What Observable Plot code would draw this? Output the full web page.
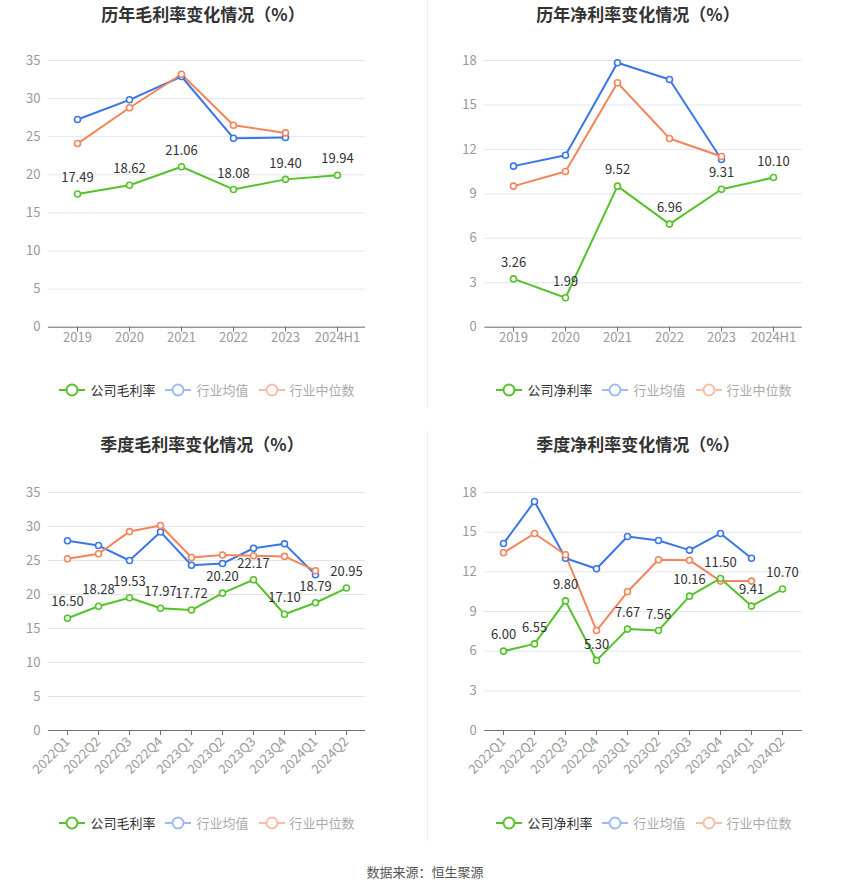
<!DOCTYPE html>
<html>
<head>
<meta charset="utf-8">
<script src="https://cdn.jsdelivr.net/npm/d3@7"></script>
<script src="https://cdn.jsdelivr.net/npm/@observablehq/plot@0.6"></script>
<style>
  html, body { margin: 0; padding: 0; background: #fff; }
  body { font-family: "Noto Sans CJK SC", "Noto Sans", sans-serif; }
  #root { position: relative; width: 850px; height: 891px; overflow: hidden; }
  .title { position: absolute; font-size: 17px; font-weight: bold; color: #333; text-align: center; line-height: 20px; }
  .panel { position: absolute; }
  .legend { position: absolute; display: flex; justify-content: center; align-items: center; font-size: 13px; line-height: 16px; }
  .legend .item { display: flex; align-items: center; margin: 0 5px; }
  .legend .item svg { margin-right: 5px; }
  .divider { position: absolute; left: 427px; width: 1px; background: #eeeeee; }
  .caption { position: absolute; left: 0; width: 850px; top: 862px; text-align: center; font-size: 13px; color: #555; }
</style>
</head>
<body>
<div id="root"></div>
<script>
// ---- Data ----
const yearCats = ["2019", "2020", "2021", "2022", "2023", "2024H1"];
const quarterCats = ["2022Q1", "2022Q2", "2022Q3", "2022Q4", "2023Q1", "2023Q2", "2023Q3", "2023Q4", "2024Q1", "2024Q2"];

const annualGrossCompany = [17.49, 18.62, 21.06, 18.08, 19.40, 19.94];
const annualGrossAvg     = [27.26, 29.84, 32.90, 24.80, 24.90, null];
const annualGrossMedian  = [24.10, 28.80, 33.20, 26.50, 25.50, null];

const annualNetCompany = [3.26, 1.99, 9.52, 6.96, 9.31, 10.10];
const annualNetAvg     = [10.87, 11.61, 17.85, 16.72, 11.32, null];
const annualNetMedian  = [9.52, 10.51, 16.50, 12.74, 11.52, null];

const quarterGrossCompany = [16.50, 18.28, 19.53, 17.97, 17.72, 20.20, 22.17, 17.10, 18.79, 20.95];
const quarterGrossAvg     = [27.90, 27.20, 25.00, 29.20, 24.30, 24.55, 26.80, 27.45, 22.90, null];
const quarterGrossMedian  = [25.25, 26.00, 29.25, 30.15, 25.45, 25.80, 25.70, 25.60, 23.50, null];

const quarterNetCompany = [6.00, 6.55, 9.80, 5.30, 7.67, 7.56, 10.16, 11.50, 9.41, 10.70];
const quarterNetAvg     = [14.14, 17.32, 13.03, 12.23, 14.67, 14.37, 13.64, 14.90, 13.03, null];
const quarterNetMedian  = [13.44, 14.90, 13.29, 7.56, 10.49, 12.91, 12.88, 11.30, 11.30, null];

const grossTicks = [0, 5, 10, 15, 20, 25, 30, 35];
const netTicks = [0, 3, 6, 9, 12, 15, 18];

const titles = ["历年毛利率变化情况（%）", "历年净利率变化情况（%）", "季度毛利率变化情况（%）", "季度净利率变化情况（%）"];
const grossLegend = ["公司毛利率", "行业均值", "行业中位数"];
const netLegend = ["公司净利率", "行业均值", "行业中位数"];
const caption = "数据来源：恒生聚源";

// ---- Styles ----
const GREEN = "#55c22a", BLUE = "#3a76e6", ORANGE = "#f5845a";
const FADE_BLUE = "#9dbbf3", FADE_ORANGE = "#fbbca4";
const FONT = "\"Noto Sans CJK SC\", \"Noto Sans\", sans-serif";

const root = document.getElementById("root");

function toRows(cats, vals) {
  return cats.map((c, i) => ({c, v: vals[i]})).filter(d => d.v != null);
}

function makePanel(opt) {
  const comp = toRows(opt.cats, opt.company);
  const avg = toRows(opt.cats, opt.avg);
  const med = toRows(opt.cats, opt.median);
  const rotate = opt.rotate;
  const chart = Plot.plot({
    width: 425,
    height: 330,
    marginLeft: opt.ml,
    marginRight: opt.mr,
    marginTop: opt.mt,
    marginBottom: opt.mb,
    style: {fontFamily: FONT, fontSize: "13px", background: "transparent", overflow: "visible"},
    x: {type: "point", domain: opt.cats, padding: 0.5, label: null},
    y: {domain: [0, opt.ymax], label: null},
    marks: [
      Plot.gridY(opt.ticks, {stroke: "#e0e6f1", strokeOpacity: 1}),
      Plot.axisY(opt.ticks, {tickSize: 0, tickPadding: 8, color: "#999", fontSize: 13, label: null}),
      Plot.ruleY([0], {stroke: "#6e7079"}),
      Plot.axisX({tickSize: 5, tickFormat: () => "", color: "#6e7079", label: null}),
      Plot.axisX({tickSize: 0, tickPadding: rotate ? 9 : 6, tickRotate: rotate ? -45 : 0, color: "#999", fontSize: 13, label: null}),
      Plot.line(avg, {x: "c", y: "v", stroke: BLUE, strokeWidth: 2}),
      Plot.line(med, {x: "c", y: "v", stroke: ORANGE, strokeWidth: 2}),
      Plot.line(comp, {x: "c", y: "v", stroke: GREEN, strokeWidth: 2}),
      Plot.dot(avg, {x: "c", y: "v", r: 3, fill: "#fff", stroke: BLUE, strokeWidth: 1.6}),
      Plot.dot(med, {x: "c", y: "v", r: 3, fill: "#fff", stroke: ORANGE, strokeWidth: 1.6}),
      Plot.dot(comp, {x: "c", y: "v", r: 3, fill: "#fff", stroke: GREEN, strokeWidth: 1.6}),
      Plot.text(comp, {x: "c", y: "v", text: d => d.v.toFixed(2), dy: -16, fill: "#333", fontSize: 13})
    ]
  });
  const wrap = document.createElement("div");
  wrap.className = "panel";
  wrap.style.left = opt.left + "px";
  wrap.style.top = opt.top + "px";
  wrap.appendChild(chart);
  root.appendChild(wrap);

  const t = document.createElement("div");
  t.className = "title";
  t.textContent = opt.title;
  t.style.left = (opt.titleCenter - 150) + "px";
  t.style.width = "300px";
  t.style.top = opt.titleTop + "px";
  root.appendChild(t);

  const lg = document.createElement("div");
  lg.className = "legend";
  lg.style.left = (opt.legendCenter - 200) + "px";
  lg.style.width = "400px";
  lg.style.top = opt.legendTop + "px";
  const items = [
    {label: opt.legend[0], color: GREEN, text: "#333"},
    {label: opt.legend[1], color: FADE_BLUE, text: "#aaa"},
    {label: opt.legend[2], color: FADE_ORANGE, text: "#aaa"}
  ];
  for (const it of items) {
    const d = document.createElement("div");
    d.className = "item";
    d.innerHTML = `<svg width="26" height="16"><line x1="0" y1="8" x2="26" y2="8" stroke="${it.color}" stroke-width="2"/><circle cx="13" cy="8" r="5.5" fill="#fff" stroke="${it.color}" stroke-width="2"/></svg><span style="color:${it.text}">${it.label}</span>`;
    lg.appendChild(d);
  }
  root.appendChild(lg);
}

makePanel({cats: yearCats, company: annualGrossCompany, avg: annualGrossAvg, median: annualGrossMedian,
  ymax: 35, ticks: grossTicks, left: 0, top: 40, ml: 48, mr: 60, mt: 20, mb: 43.3, rotate: false,
  title: titles[0], titleCenter: 203, titleTop: 4, legend: grossLegend, legendCenter: 207, legendTop: 382});
makePanel({cats: yearCats, company: annualNetCompany, avg: annualNetAvg, median: annualNetMedian,
  ymax: 18, ticks: netTicks, left: 425, top: 40, ml: 59.3, mr: 48.3, mt: 20, mb: 43.3, rotate: false,
  title: titles[1], titleCenter: 638, titleTop: 4, legend: netLegend, legendCenter: 644, legendTop: 382});
makePanel({cats: quarterCats, company: quarterGrossCompany, avg: quarterGrossAvg, median: quarterGrossMedian,
  ymax: 35, ticks: grossTicks, left: 0, top: 470, ml: 48, mr: 60, mt: 22, mb: 70, rotate: true,
  title: titles[2], titleCenter: 202, titleTop: 434, legend: grossLegend, legendCenter: 207, legendTop: 815});
makePanel({cats: quarterCats, company: quarterNetCompany, avg: quarterNetAvg, median: quarterNetMedian,
  ymax: 18, ticks: netTicks, left: 425, top: 470, ml: 59.3, mr: 48.3, mt: 22, mb: 70, rotate: true,
  title: titles[3], titleCenter: 638, titleTop: 434, legend: netLegend, legendCenter: 644, legendTop: 815});

// dividers
const d1 = document.createElement("div"); d1.className = "divider"; d1.style.top = "0px"; d1.style.height = "407px"; root.appendChild(d1);
const d2 = document.createElement("div"); d2.className = "divider"; d2.style.top = "431px"; d2.style.height = "410px"; root.appendChild(d2);

const cap = document.createElement("div");
cap.className = "caption";
cap.textContent = caption;
root.appendChild(cap);
</script>
</body>
</html>
